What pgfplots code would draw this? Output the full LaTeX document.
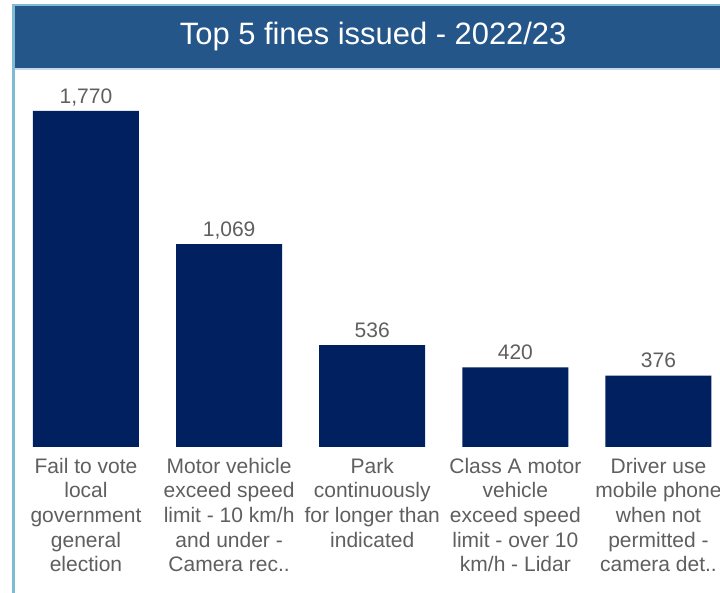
\documentclass[border=0pt]{standalone}
\usepackage{pgfplots}
\pgfplotsset{compat=1.18}
\usepackage{fontspec}
\setmainfont{Liberation Sans}
\definecolor{barnavy}{HTML}{002060}
\definecolor{titleblue}{HTML}{24568A}
\definecolor{borderteal}{HTML}{7FBCD3}
\definecolor{paleline}{HTML}{C5D9EA}
\definecolor{txtgray}{HTML}{5F5F5F}
\begin{document}
\begin{tikzpicture}[x=1bp,y=1bp]
\useasboundingbox (0,0) rectangle (720,593);
\clip (0,0) rectangle (720,593);
\fill[white] (0,0) rectangle (720,593);
\fill[titleblue] (15,524.5) rectangle (720,587);
\draw[paleline, line width=1.5bp] (15,524) -- (720,524);
\draw[borderteal, line width=2.5bp] (13.5,0) -- (13.5,588.2) -- (720,588.2);
\begin{axis}[
  at={(15bp,146bp)}, anchor=south west,
  scale only axis, width=705bp, height=378bp,
  xmin=-0.496, xmax=4.43, ymin=0, ymax=1991,
  axis line style={draw=none},
  major tick length=0pt,
  ytick=\empty,
  xtick={0,1,2,3,4},
  xticklabels={{Fail to vote\\local\\government\\general\\election},
    {Motor vehicle\\exceed speed\\limit - 10 km/h\\and under -\\Camera rec..},
    {Park\\continuously\\for longer than\\indicated},
    {Class A motor\\vehicle\\exceed speed\\limit - over 10\\km/h - Lidar},
    {Driver use\\mobile phone\\when not\\permitted -\\camera det..}},
  xticklabel style={font=\fontsize{21bp}{24.7bp}\selectfont, text=txtgray,
    align=center, anchor=north, inner sep=0pt, yshift=-10.7bp},
  ybar, bar width=106bp,
  nodes near coords={\smash{\pgfmathprintnumber[1000 sep={,}, assume math mode=true]{\pgfplotspointmeta}}},
  every node near coord/.append style={font=\fontsize{21bp}{24bp}\selectfont,
    text=txtgray, inner sep=0pt, yshift=7bp},
  every axis title shift=0pt,
  title={Top 5 fines issued - 2022/23},
  title style={at={(0.508,1)}, anchor=base, yshift=24bp,
    font=\fontsize{30.9bp}{36bp}\selectfont, text=white, inner sep=0pt},
]
\addplot[fill=barnavy, draw=none] coordinates {(0,1770) (1,1069) (2,536) (3,420) (4,376)};
\end{axis}
\end{tikzpicture}
\end{document}
